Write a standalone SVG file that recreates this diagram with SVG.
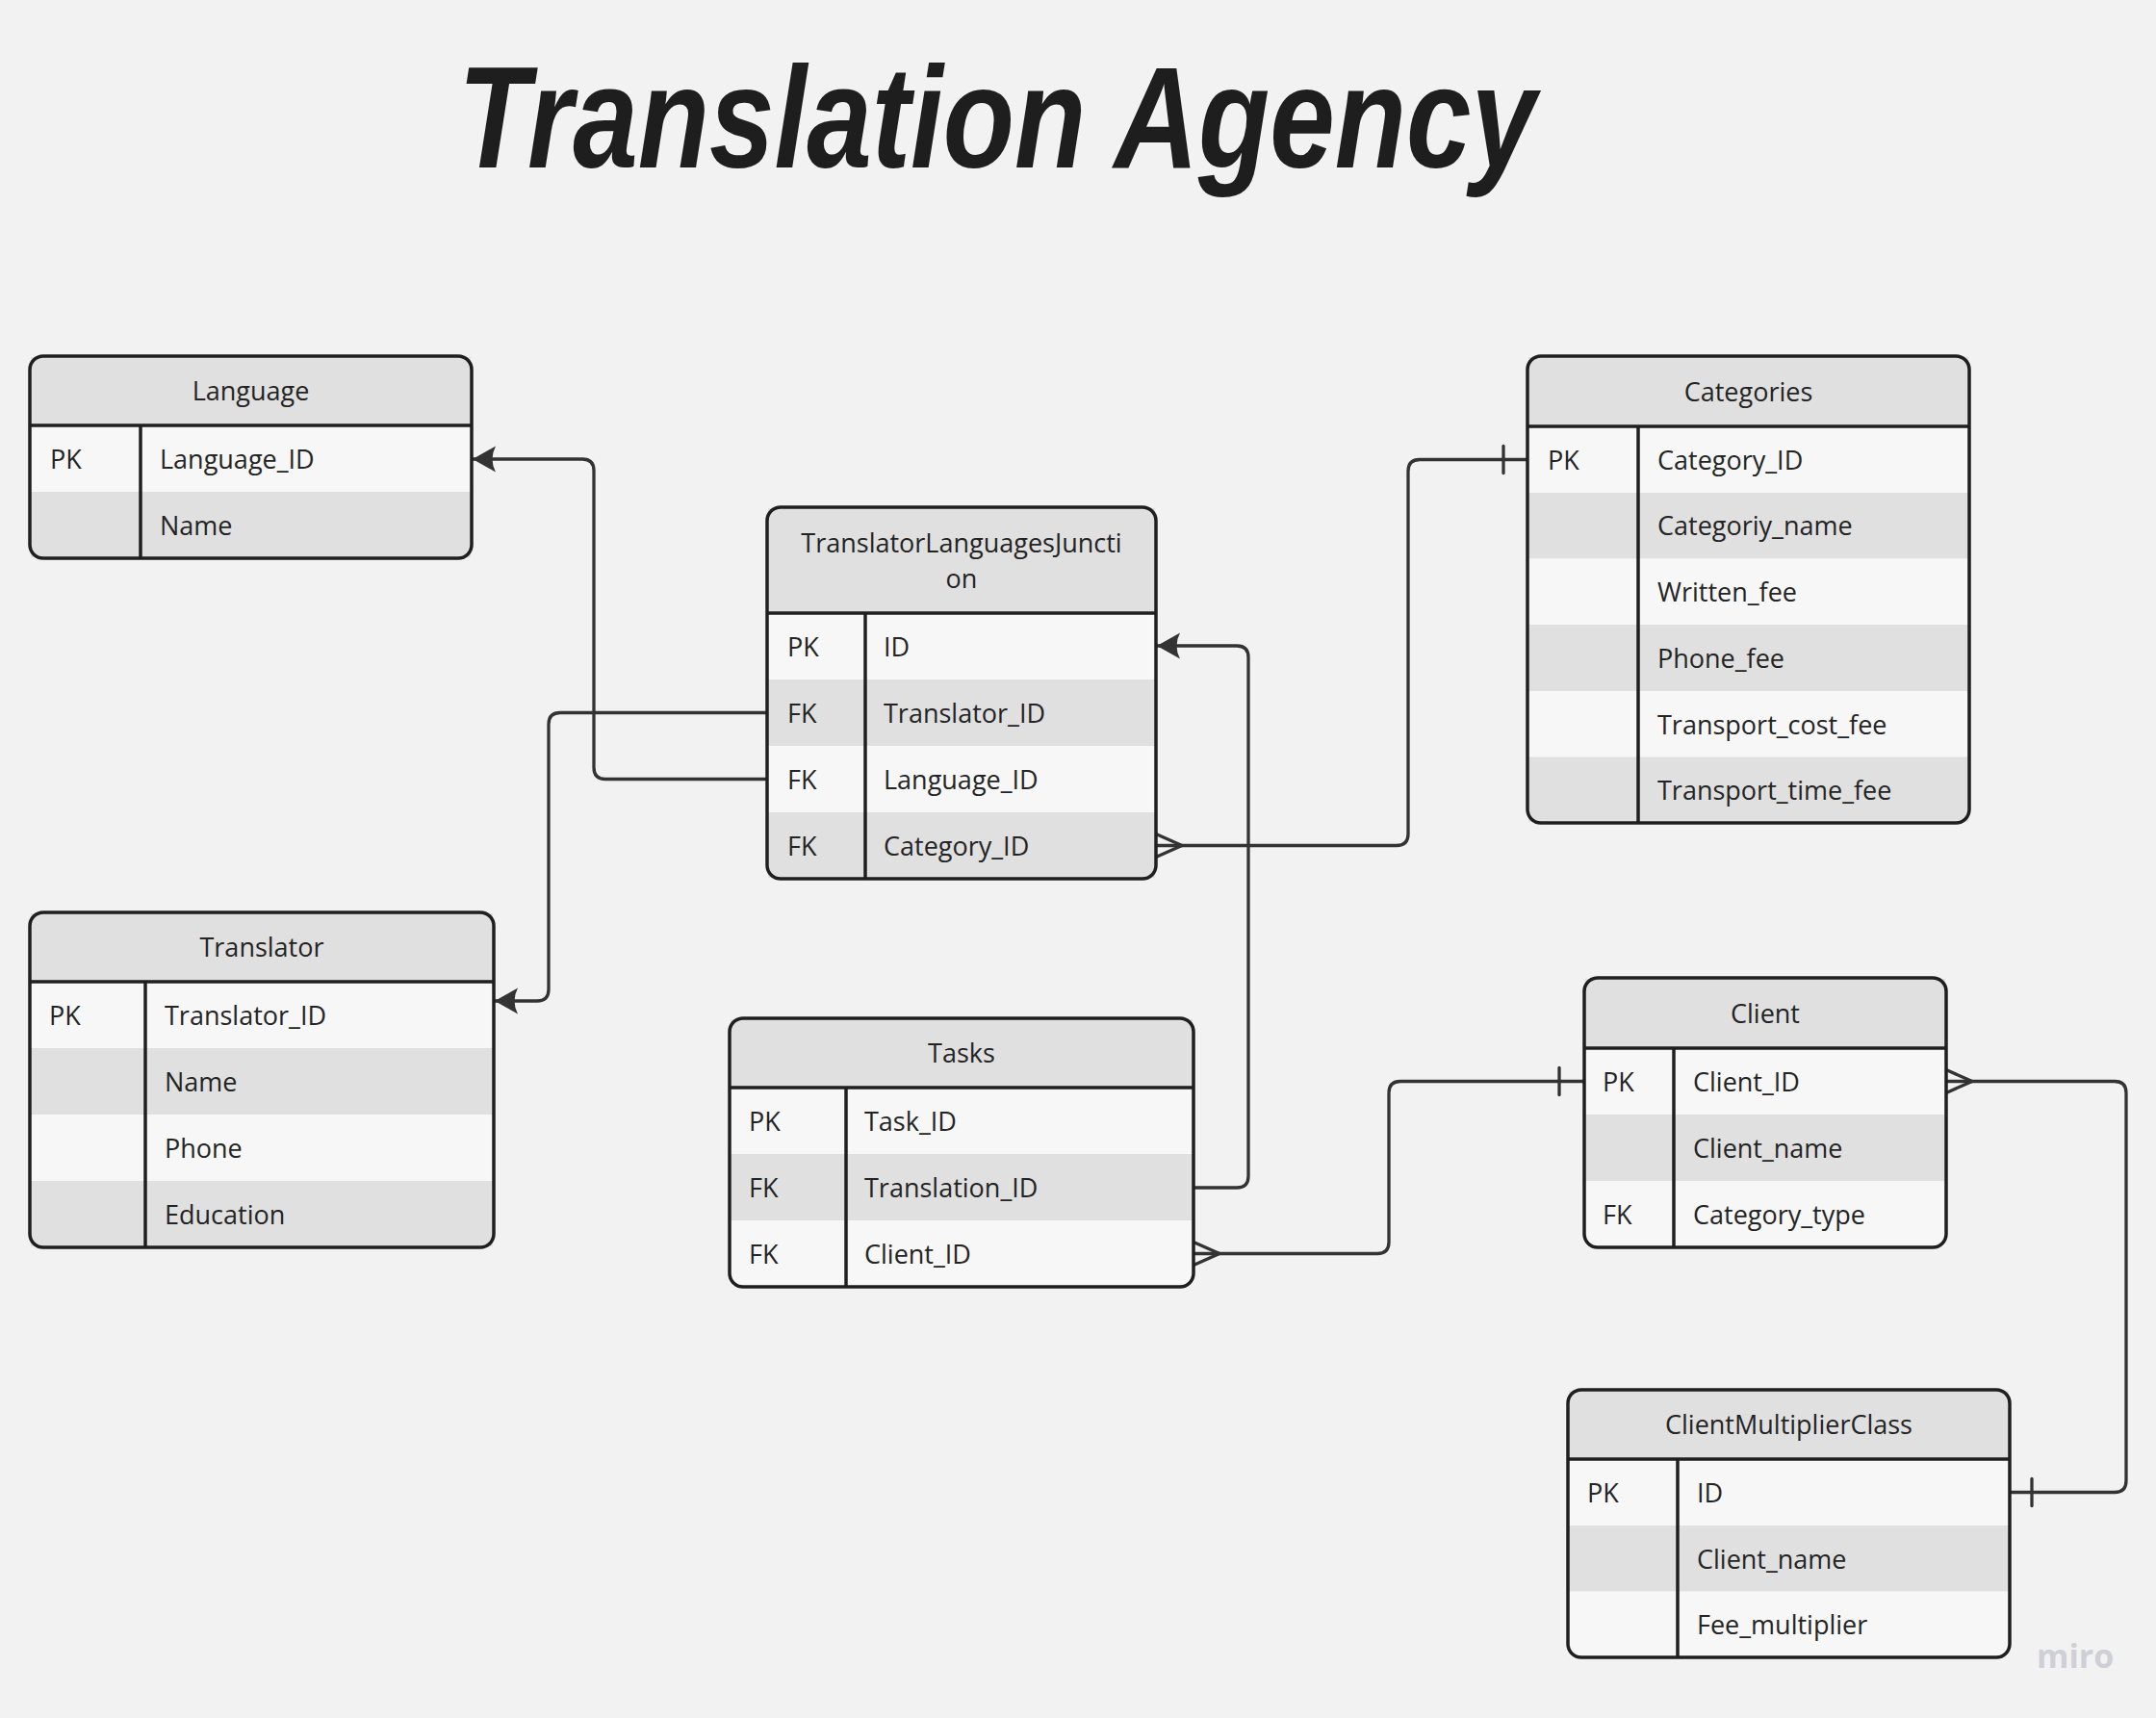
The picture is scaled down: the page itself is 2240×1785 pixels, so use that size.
<svg xmlns="http://www.w3.org/2000/svg" width="2240" height="1785" viewBox="0 0 2240 1785">
<defs>
<style>
.bg{fill:#f2f2f2}
.hd{fill:#e0e0e0}
.lt{fill:#f7f7f7}
.dk{fill:#e0e0e0}
.bd{fill:none;stroke:#1f1f1f;stroke-width:3.5}
.dv{stroke:#1f1f1f;stroke-width:3.5}
.ln{fill:none;stroke:#333333;stroke-width:3.3}
.mk{fill:none;stroke:#333333;stroke-width:3.3;stroke-linecap:round}
.t{font-family:"Open Sans","Liberation Sans",sans-serif;font-size:27px;fill:#242424}
.c{text-anchor:middle}
.title{font-family:"Liberation Sans","DejaVu Sans",sans-serif;font-weight:bold;font-style:italic;font-size:150px;fill:#1e1e1e}
.miro{font-family:"Open Sans","Liberation Sans",sans-serif;font-weight:bold;font-size:34px;fill:#cfcfd8}
</style>
<marker id="arr" viewBox="0 -15 27 30" refX="25" refY="0" markerWidth="27" markerHeight="30" markerUnits="userSpaceOnUse" orient="auto">
<path d="M25,0 L1,-13.5 Q8,0 1,13.5 Z" fill="#333333"/>
</marker>
</defs>
<rect class="bg" x="0" y="0" width="2240" height="1785"/>

<text class="title" x="476" y="174" textLength="1120" lengthAdjust="spacingAndGlyphs">Translation Agency</text>

<g id="connectors">
<path class="ln" d="M797,809.5 H629 Q617,809.5 617,797.5 V489 Q617,477 605,477 H491" marker-end="url(#arr)"/>
<path class="ln" d="M797,740.5 H582 Q570,740.5 570,752.5 V1028 Q570,1040 558,1040 H514" marker-end="url(#arr)"/>
<path class="ln" d="M1240,1234 H1285 Q1297,1234 1297,1222 V683 Q1297,671 1285,671 H1202" marker-end="url(#arr)"/>
<path class="ln" d="M1201,878.5 H1451 Q1463,878.5 1463,866.5 V489.5 Q1463,477.5 1475,477.5 H1587"/>
<path class="mk" d="M1201,866.5 L1228,878.5 L1201,890.5"/>
<path class="mk" d="M1562,463.5 V491.5"/>
<path class="ln" d="M1240,1302.5 H1431 Q1443,1302.5 1443,1290.5 V1135.5 Q1443,1123.5 1455,1123.5 H1646"/>
<path class="mk" d="M1240,1290.5 L1267,1302.5 L1240,1314.5"/>
<path class="mk" d="M1620,1109.5 V1137.5"/>
<path class="ln" d="M2022,1123.5 H2197 Q2209,1123.5 2209,1135.5 V1538.5 Q2209,1550.5 2197,1550.5 H2088"/>
<path class="mk" d="M2022,1111.5 L2049,1123.5 L2022,1135.5"/>
<path class="mk" d="M2111,1536.5 V1564.5"/>
</g>

<g id="language">
<rect class="hd" x="32" y="371" width="457" height="71"/>
<rect class="lt" x="32" y="442" width="457" height="69"/>
<rect class="dk" x="32" y="511" width="457" height="68"/>
<rect class="bd" x="31" y="370" width="459" height="210" rx="14"/>
<line class="dv" x1="31" y1="442" x2="490" y2="442"/>
<line class="dv" x1="146" y1="442" x2="146" y2="580"/>
<text class="t c" x="260.5" y="416">Language</text>
<text class="t" x="52" y="486.5">PK</text><text class="t" x="166" y="486.5">Language_ID</text>
<text class="t" x="166" y="555.5">Name</text>
</g>

<g id="categories">
<rect class="hd" x="1588" y="371" width="457" height="72"/>
<rect class="lt" x="1588" y="443" width="457" height="69"/>
<rect class="dk" x="1588" y="512" width="457" height="68.5"/>
<rect class="lt" x="1588" y="580.5" width="457" height="68.5"/>
<rect class="dk" x="1588" y="649" width="457" height="69"/>
<rect class="lt" x="1588" y="718" width="457" height="68.5"/>
<rect class="dk" x="1588" y="786.5" width="457" height="67.5"/>
<rect class="bd" x="1587" y="370" width="459" height="485" rx="14"/>
<line class="dv" x1="1587" y1="443" x2="2046" y2="443"/>
<line class="dv" x1="1702" y1="443" x2="1702" y2="855"/>
<text class="t c" x="1816.5" y="416.5">Categories</text>
<text class="t" x="1608" y="487.5">PK</text><text class="t" x="1722" y="487.5">Category_ID</text>
<text class="t" x="1722" y="556">Categoriy_name</text>
<text class="t" x="1722" y="624.5">Written_fee</text>
<text class="t" x="1722" y="693.5">Phone_fee</text>
<text class="t" x="1722" y="762.5">Transport_cost_fee</text>
<text class="t" x="1722" y="830.5">Transport_time_fee</text>
</g>

<g id="junction">
<rect class="hd" x="798" y="528" width="402" height="109"/>
<rect class="lt" x="798" y="637" width="402" height="69"/>
<rect class="dk" x="798" y="706" width="402" height="69"/>
<rect class="lt" x="798" y="775" width="402" height="69"/>
<rect class="dk" x="798" y="844" width="402" height="68"/>
<rect class="bd" x="797" y="527" width="404" height="386" rx="14"/>
<line class="dv" x1="797" y1="637" x2="1201" y2="637"/>
<line class="dv" x1="899" y1="637" x2="899" y2="913"/>
<text class="t c" x="999" y="573.5">TranslatorLanguagesJuncti</text>
<text class="t c" x="999" y="611">on</text>
<text class="t" x="818" y="681.5">PK</text><text class="t" x="918" y="681.5">ID</text>
<text class="t" x="818" y="750.5">FK</text><text class="t" x="918" y="750.5">Translator_ID</text>
<text class="t" x="818" y="819.5">FK</text><text class="t" x="918" y="819.5">Language_ID</text>
<text class="t" x="818" y="888.5">FK</text><text class="t" x="918" y="888.5">Category_ID</text>
</g>

<g id="translator">
<rect class="hd" x="32" y="949" width="480" height="71"/>
<rect class="lt" x="32" y="1020" width="480" height="69"/>
<rect class="dk" x="32" y="1089" width="480" height="69"/>
<rect class="lt" x="32" y="1158" width="480" height="69"/>
<rect class="dk" x="32" y="1227" width="480" height="68"/>
<rect class="bd" x="31" y="948" width="482" height="348" rx="14"/>
<line class="dv" x1="31" y1="1020" x2="513" y2="1020"/>
<line class="dv" x1="151" y1="1020" x2="151" y2="1296"/>
<text class="t c" x="272" y="994">Translator</text>
<text class="t" x="51" y="1064.5">PK</text><text class="t" x="171" y="1064.5">Translator_ID</text>
<text class="t" x="171" y="1133.5">Name</text>
<text class="t" x="171" y="1202.5">Phone</text>
<text class="t" x="171" y="1271.5">Education</text>
</g>

<g id="tasks">
<rect class="hd" x="759" y="1059" width="480" height="71"/>
<rect class="lt" x="759" y="1130" width="480" height="69"/>
<rect class="dk" x="759" y="1199" width="480" height="69"/>
<rect class="lt" x="759" y="1268" width="480" height="68"/>
<rect class="bd" x="758" y="1058" width="482" height="279" rx="14"/>
<line class="dv" x1="758" y1="1130" x2="1240" y2="1130"/>
<line class="dv" x1="879" y1="1130" x2="879" y2="1337"/>
<text class="t c" x="999" y="1104">Tasks</text>
<text class="t" x="778" y="1174.5">PK</text><text class="t" x="898" y="1174.5">Task_ID</text>
<text class="t" x="778" y="1243.5">FK</text><text class="t" x="898" y="1243.5">Translation_ID</text>
<text class="t" x="778" y="1312.5">FK</text><text class="t" x="898" y="1312.5">Client_ID</text>
</g>

<g id="client">
<rect class="hd" x="1647" y="1017" width="374" height="72"/>
<rect class="lt" x="1647" y="1089" width="374" height="69"/>
<rect class="dk" x="1647" y="1158" width="374" height="69"/>
<rect class="lt" x="1647" y="1227" width="374" height="68"/>
<rect class="bd" x="1646" y="1016" width="376" height="280" rx="14"/>
<line class="dv" x1="1646" y1="1089" x2="2022" y2="1089"/>
<line class="dv" x1="1739" y1="1089" x2="1739" y2="1296"/>
<text class="t c" x="1834" y="1062.5">Client</text>
<text class="t" x="1665" y="1133.5">PK</text><text class="t" x="1759" y="1133.5">Client_ID</text>
<text class="t" x="1759" y="1202.5">Client_name</text>
<text class="t" x="1665" y="1271.5">FK</text><text class="t" x="1759" y="1271.5">Category_type</text>
</g>

<g id="clientmultiplierclass">
<rect class="hd" x="1630" y="1445" width="457" height="71"/>
<rect class="lt" x="1630" y="1516" width="457" height="69"/>
<rect class="dk" x="1630" y="1585" width="457" height="68.5"/>
<rect class="lt" x="1630" y="1653.5" width="457" height="67.5"/>
<rect class="bd" x="1629" y="1444" width="459" height="278" rx="14"/>
<line class="dv" x1="1629" y1="1516" x2="2088" y2="1516"/>
<line class="dv" x1="1743" y1="1516" x2="1743" y2="1722"/>
<text class="t c" x="1858.5" y="1490">ClientMultiplierClass</text>
<text class="t" x="1649" y="1560.5">PK</text><text class="t" x="1763" y="1560.5">ID</text>
<text class="t" x="1763" y="1629.5">Client_name</text>
<text class="t" x="1763" y="1697.5">Fee_multiplier</text>
</g>

<text class="miro" x="2116" y="1733">miro</text>
</svg>
